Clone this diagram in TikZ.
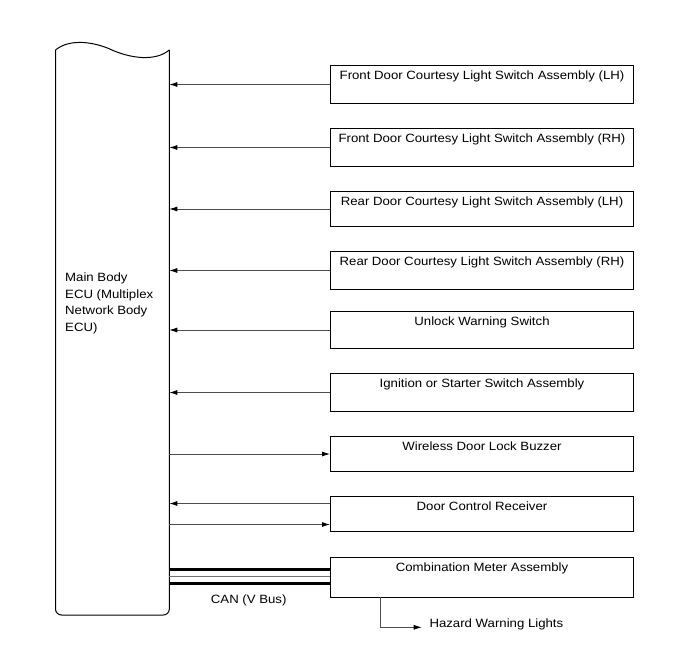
\documentclass[tikz,border=0pt]{standalone}
\usepackage{fontspec}
\setmainfont{Liberation Sans}[FakeStretch=1.1]
\usetikzlibrary{arrows.meta}
\begin{document}
\begin{tikzpicture}[x=1bp,y=-1bp,
  box/.style={draw=black,line width=1bp,minimum width=303bp,minimum height=#1,inner sep=0pt,anchor=north west},
  lbl/.style={font=\fontsize{12bp}{16.5bp}\selectfont,anchor=base,inner sep=0pt},
  arr/.style={draw=black!70,line width=0.8bp,-{Latex[length=8bp,width=5bp,color=black]}},
  wire/.style={draw=black!70,line width=0.8bp}]
\useasboundingbox (0,0) rectangle (691,660);
% ECU
\draw[line width=1bp]
  (169.3,50) .. controls (155,62) and (130,58) .. (112,50) .. controls (95,42) and (70,38) .. (55.5,50);
\draw[line width=1bp,rounded corners=6bp]
  (55.5,50) -- (55.5,615) -- (169.3,615) -- (169.3,50);
\coordinate (ecuR) at (169.3,330);
\node[font=\fontsize{12bp}{16.5bp}\selectfont,align=left,anchor=base west,inner sep=0pt] (ecu) at (65,331.2)
  {Main Body\\ECU (Multiplex\\Network Body\\ECU)};
% boxes
\node[box=38bp] (b1) at (330,65) {};
\node[box=38bp] (b2) at (330,128) {};
\node[box=35bp] (b3) at (330,191) {};
\node[box=38bp] (b4) at (330,251) {};
\node[box=37bp] (b5) at (330,311) {};
\node[box=38bp] (b6) at (330,373) {};
\node[box=35bp] (b7) at (330,436) {};
\node[box=35bp] (b8) at (330,496) {};
\node[box=40bp] (b9) at (330,557) {};
\node[lbl] (t1) at ([yshift=-14.3bp]b1.north) {Front Door Courtesy Light Switch Assembly (LH)};
\node[lbl] (t2) at ([yshift=-14.3bp]b2.north) {Front Door Courtesy Light Switch Assembly (RH)};
\node[lbl] (t3) at ([yshift=-14.3bp]b3.north) {Rear Door Courtesy Light Switch Assembly (LH)};
\node[lbl] (t4) at ([yshift=-14.3bp]b4.north) {Rear Door Courtesy Light Switch Assembly (RH)};
\node[lbl] (t5) at ([yshift=-14.3bp]b5.north) {Unlock Warning Switch};
\node[lbl] (t6) at ([yshift=-14.3bp]b6.north) {Ignition or Starter Switch Assembly};
\node[lbl] (t7) at ([yshift=-14.3bp]b7.north) {Wireless Door Lock Buzzer};
\node[lbl] (t8) at ([yshift=-14.3bp]b8.north) {Door Control Receiver};
\node[lbl] (t9) at ([yshift=-14.3bp]b9.north) {Combination Meter Assembly};
% arrows into ECU
\foreach \b in {b1,b2,b3,b4,b5,b6}{
  \draw[arr] (\b.west) -- (\b.west -| ecuR);
}
\draw[arr] (b7.west -| ecuR) -- (b7.west);
\draw[arr] ([yshift=10.5bp]b8.west) -- ([yshift=10.5bp]b8.west -| ecuR);
\draw[arr] ([yshift=-10.5bp]b8.west -| ecuR) -- ([yshift=-10.5bp]b8.west);
% CAN
\draw[line width=3.8bp] ([yshift=8bp]b9.west -| ecuR) -- ([yshift=8bp]b9.west);
\draw[line width=1.2bp,draw=black!55] ([yshift=1bp]b9.west -| ecuR) -- ([yshift=1bp]b9.west);
\draw[line width=3bp] ([yshift=-5.5bp]b9.west -| ecuR) -- ([yshift=-5.5bp]b9.west);
\node[lbl] (can) at (248.7,603.3) {CAN (V Bus)};
% hazard
\node[lbl,anchor=base west] (haz) at (429.3,627.3) {Hazard Warning Lights};
\coordinate (hz) at (380,597);
\draw[arr] (hz) -- (380,627.3) -- ([xshift=-7.6bp]haz.base west);
\end{tikzpicture}
\end{document}
